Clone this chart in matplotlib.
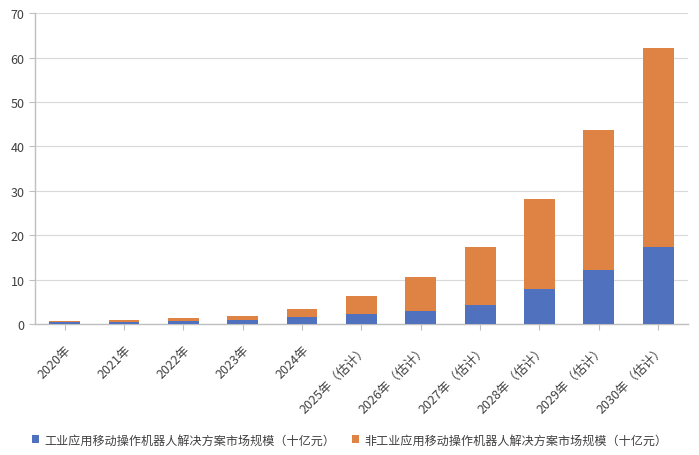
import matplotlib
matplotlib.use("Agg")
import matplotlib.pyplot as plt
import numpy as np

plt.rcParams["font.family"] = ["Noto Sans CJK SC", "DejaVu Sans"]

years = ["2020年", "2021年", "2022年", "2023年", "2024年",
         "2025年（估计）", "2026年（估计）", "2027年（估计）",
         "2028年（估计）", "2029年（估计）", "2030年（估计）"]
industrial = [0.4, 0.5, 0.75, 0.9, 1.7, 2.3, 2.9, 4.4, 7.9, 12.1, 17.4]
total = [0.7, 0.9, 1.35, 1.8, 3.4, 6.3, 10.7, 17.3, 28.2, 43.6, 62.1]
non_industrial = [t - i for t, i in zip(total, industrial)]

series_names = ["工业应用移动操作机器人解决方案市场规模（十亿元）",
                "非工业应用移动操作机器人解决方案市场规模（十亿元）"]
blue = "#4F71BE"
orange = "#DE8344"

fig = plt.figure(figsize=(6.99, 4.56), dpi=100)
ax = fig.add_axes([0.05, 0.287, 0.934, 0.682])

x = np.arange(len(years))
ax.bar(x, industrial, width=0.52, color=blue, label=series_names[0], zorder=3)
ax.bar(x, non_industrial, width=0.52, bottom=industrial, color=orange,
       label=series_names[1], zorder=3)

ax.set_xlim(-0.5, len(years) - 0.5)
ax.set_ylim(0, 70)
ax.set_yticks(range(0, 71, 10))
ax.set_xticks(x)
ax.set_xticklabels(years, rotation=45, ha="right", rotation_mode="anchor",
                   fontsize=9, color="#404040")
ax.tick_params(axis="y", labelsize=9, labelcolor="#404040", color="#BFBFBF", length=4)
ax.tick_params(axis="x", color="#BFBFBF", length=4, pad=9)
ax.grid(axis="y", color="#D9D9D9", linewidth=0.8, zorder=0)

for s in ["top", "right"]:
    ax.spines[s].set_visible(False)
for s in ["left", "bottom"]:
    ax.spines[s].set_color("#BFBFBF")
    ax.spines[s].set_linewidth(1.0)

fig.legend(loc="center", bbox_to_anchor=(0.5, 0.033), ncol=2, frameon=False,
           fontsize=8.7, handlelength=0.6, handleheight=0.6, handletextpad=0.4,
           columnspacing=1.4, labelcolor="#404040")

fig.savefig("out.png", dpi=100)
